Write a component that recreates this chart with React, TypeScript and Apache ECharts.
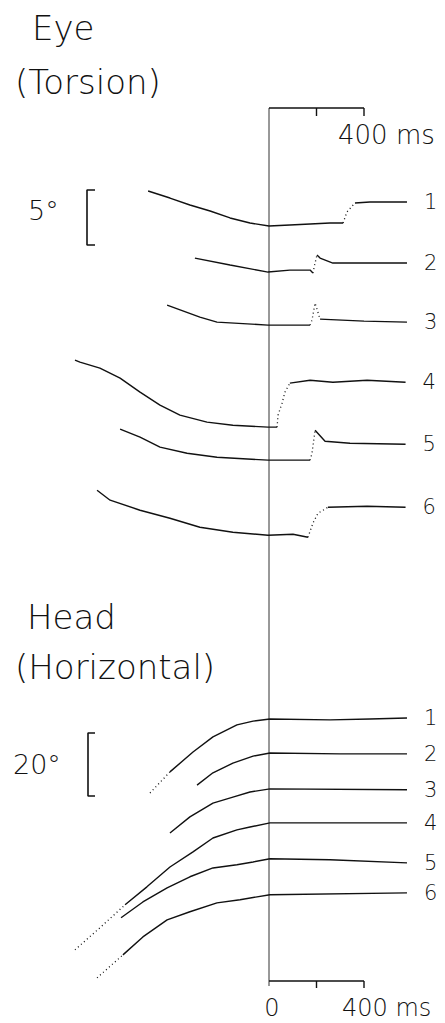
import React, { useEffect, useRef } from "react";
import * as echarts from "echarts";

// ---- Recorded traces: [time (ms, 0 = reference instant), angle (deg)] ----
// Eye torsion, trials 1-6 (relative to each trial's final level)
const eyeTorsion1 = [[-509, 1.0], [-417, 0.36], [-333, -0.27], [-248, -0.82], [-164, -1.45], [-80, -1.91], [0, -2.18], [88, -2.09], [173, -2.0], [257, -1.91], [312, -1.91], [328, -0.91], [362, -0.09], [425, 0], [581, 0]];
const eyeTorsion2 = [[-312, 0.45], [-164, -0.18], [-4, -0.82], [88, -0.64], [173, -0.64], [185, -0.91], [194, 0], [202, 0.73], [215, 0.45], [269, 0], [581, 0]];
const eyeTorsion3 = [[-429, 1.73], [-291, 0.64], [-219, 0.18], [-4, -0.09], [173, -0.09], [181, 0.36], [194, 1.91], [215, 0.45], [400, 0.27], [581, 0.18]];
const eyeTorsion4 = [[-817, 2.27], [-796, 2.09], [-712, 1.55], [-627, 0.64], [-543, -0.64], [-459, -1.82], [-375, -2.73], [-261, -3.36], [-152, -3.64], [-4, -3.82], [34, -3.82], [38, -2.73], [55, -1.64], [67, -0.64], [88, 0.18], [173, 0.45], [269, 0.27], [413, 0.45], [575, 0.27]];
const eyeTorsion5 = [[-627, 1.55], [-543, 0.82], [-459, -0.09], [-345, -0.64], [-219, -1.0], [-4, -1.27], [173, -1.27], [181, -0.64], [194, 1.45], [236, 0.45], [341, 0.27], [575, 0.18]];
const eyeTorsion6 = [[-724, 1.55], [-669, 0.64], [-543, -0.27], [-417, -1.0], [-291, -1.82], [-152, -2.27], [-4, -2.55], [101, -2.45], [164, -2.73], [185, -1.45], [206, -0.55], [248, 0], [413, 0.09], [575, 0]];

// Head horizontal position, trials 1-6
const headAngle1 = [[-501, -23.8], [-417, -17.1], [-320, -10.8], [-236, -6.0], [-135, -2.2], [-67, -1.0], [4, -0.3], [257, -0.6], [425, -0.3], [581, 0]];
const headAngle2 = [[-303, -10.2], [-236, -6.3], [-152, -3.2], [-67, -1.0], [4, 0], [300, -0.3], [581, -0.3]];
const headAngle3 = [[-417, -14.3], [-333, -9.2], [-236, -4.8], [-152, -2.9], [-80, -1.3], [4, -0.3], [581, -0.6]];
const headAngle4 = [[-817, -40.3], [-712, -33.3], [-606, -26.0], [-514, -20.3], [-417, -14.0], [-320, -9.2], [-236, -4.8], [-135, -2.2], [-80, -1.3], [4, 0], [581, 0]];
const headAngle5 = [[-623, -19.0], [-531, -14.0], [-429, -9.5], [-333, -6.0], [-236, -3.2], [-135, -2.2], [-67, -1.3], [4, -0.3], [257, -0.6], [581, -1.6]];
const headAngle6 = [[-724, -27.0], [-615, -19.7], [-531, -14.0], [-429, -8.6], [-333, -6.0], [-219, -3.2], [-122, -2.2], [4, -0.6], [581, 0]];

const trialNames = ["1", "2", "3", "4", "5", "6"];
const eyeTraces = [eyeTorsion1, eyeTorsion2, eyeTorsion3, eyeTorsion4, eyeTorsion5, eyeTorsion6];
const headTraces = [headAngle1, headAngle2, headAngle3, headAngle4, headAngle5, headAngle6];

// fast phases (sparsely sampled, drawn dotted): [start ms, end ms]
const eyeFastPhase = [[312, 362], [185, 202], [173, 215], [34, 88], [173, 194], [164, 248]];
const headFastPhase = [[-501, -417], null, null, [-817, -606], null, [-724, -615]];

// calibration bars
const timeBarTicks = [0, 200, 400];
const timeBarLabel = "400 ms";
const eyeScaleDeg = 5;
const headScaleDeg = 20;

// ---- layout ----
const W = 445;
const H = 1023;
const GRID = { left: 31.5, top: 100, width: 403.75, height: 900 };
const T_MIN = -1000;
const T_MAX = 700;
const EYE_PX_PER_DEG = 11;
const EYE_ZERO_Y = 202;
const EYE_ROW = 5.55;
const HEAD_PX_PER_DEG = 3.15;
const HEAD_ZERO_Y = 718;
const HEAD_ROW = 11.1;

const eyeMax = (EYE_ZERO_Y - GRID.top) / EYE_PX_PER_DEG;
const eyeMin = eyeMax - GRID.height / EYE_PX_PER_DEG;
const headMax = (HEAD_ZERO_Y - GRID.top) / HEAD_PX_PER_DEG;
const headMin = headMax - GRID.height / HEAD_PX_PER_DEG;
const eyeAt = (py: number) => (EYE_ZERO_Y - py) / EYE_PX_PER_DEG;
const headAt = (py: number) => (HEAD_ZERO_Y - py) / HEAD_PX_PER_DEG;
const tAt = (px: number) => T_MIN + ((px - GRID.left) / GRID.width) * (T_MAX - T_MIN);

const FONT = "'DejaVu Sans', 'Liberation Sans', sans-serif";
const INK = "#111";

type Pt = number[];

function splitTrace(pts: Pt[], fast: number[] | null) {
  if (!fast) return [{ pts, dotted: false }];
  const [a, b] = fast;
  return [
    { pts: pts.filter((p) => p[0] <= a), dotted: false },
    { pts: pts.filter((p) => p[0] >= a && p[0] <= b), dotted: true },
    { pts: pts.filter((p) => p[0] >= b), dotted: false },
  ].filter((s) => s.pts.length > 1);
}

function traceSeries(traces: Pt[][], fastPhases: (number[] | null)[], axis: number, row: number) {
  const out: any[] = [];
  traces.forEach((tr, i) => {
    const segs = splitTrace(tr, fastPhases[i]);
    segs.forEach((s, k) => {
      const last = k === segs.length - 1;
      out.push({
        type: "line",
        name: trialNames[i],
        xAxisIndex: 0,
        yAxisIndex: axis,
        data: s.pts.map(([t, v]) => [t, v - i * row]),
        symbol: "none",
        silent: true,
        lineStyle: { color: INK, width: s.dotted ? 1.3 : 1.4, type: s.dotted ? [1, 3] : "solid" },
        endLabel: last
          ? {
              show: true,
              formatter: () => trialNames[i],
              distance: 17,
              fontFamily: FONT,
              fontSize: 21,
              fontWeight: 200,
              color: INK,
            }
          : { show: false },
      });
    });
  });
  return out;
}

function segSeries(data: number[][], axis: number, width = 1.4, color = INK) {
  return {
    type: "line",
    xAxisIndex: 0,
    yAxisIndex: axis,
    data,
    symbol: "none",
    silent: true,
    lineStyle: { color, width },
  };
}

function label(text: string, x: number, y: number, size: number, align = "left") {
  return {
    type: "text",
    x,
    y,
    style: {
      text,
      fontFamily: FONT,
      fontSize: size,
      fontWeight: 200,
      fill: INK,
      align,
      verticalAlign: "middle",
      textAlign: align,
      textVerticalAlign: "middle",
    },
  };
}

export default function App() {
  const ref = useRef<HTMLDivElement>(null);

  useEffect(() => {
    if (!ref.current) return;
    const chart = echarts.init(ref.current, null, { renderer: "svg" });

    const topBarY = eyeAt(108);
    const topTickY = eyeAt(116);
    const botBarY = headAt(981);
    const botTickY = headAt(988);
    const eyeBx0 = tAt(87);
    const eyeBx1 = tAt(95);
    const eyeTop = eyeAt(190);
    const headBx0 = tAt(88);
    const headBx1 = tAt(95);
    const headTop = headAt(733);
    const [t0, tMid, tEnd] = timeBarTicks;

    const series: any[] = [
      // zero-time reference line
      segSeries([[t0, topBarY], [t0, eyeAt(986)]], 0, 1, "#333"),
      // time calibration bars
      segSeries([[t0, topBarY], [tEnd, topBarY]], 0),
      segSeries([[tMid, topBarY], [tMid, topTickY]], 0),
      segSeries([[tEnd, topBarY], [tEnd, topTickY]], 0),
      segSeries([[t0, botBarY], [tEnd, botBarY]], 1),
      segSeries([[tMid, botBarY], [tMid, botTickY]], 1),
      segSeries([[tEnd, botBarY], [tEnd, botTickY]], 1),
      // angle calibration brackets
      segSeries([[eyeBx1, eyeTop], [eyeBx0, eyeTop], [eyeBx0, eyeTop - eyeScaleDeg], [eyeBx1, eyeTop - eyeScaleDeg]], 0, 1.6),
      segSeries([[headBx1, headTop], [headBx0, headTop], [headBx0, headTop - headScaleDeg], [headBx1, headTop - headScaleDeg]], 1, 1.6),
      ...traceSeries(eyeTraces, eyeFastPhase, 0, EYE_ROW),
      ...traceSeries(headTraces, headFastPhase, 1, HEAD_ROW),
    ];

    chart.setOption({
      animation: false,
      backgroundColor: "#fff",
      grid: { left: GRID.left, top: GRID.top, width: GRID.width, height: GRID.height, containLabel: false },
      xAxis: { type: "value", min: T_MIN, max: T_MAX, show: false },
      yAxis: [
        { type: "value", min: eyeMin, max: eyeMax, show: false },
        { type: "value", min: headMin, max: headMax, show: false },
      ],
      series,
      graphic: [
        label("Eye", 32, 28, 34),
        label("(Torsion)", 15, 82, 34),
        label("Head", 27, 617, 34),
        label("(Horizontal)", 15, 667, 34),
        label(`${eyeScaleDeg}°`, 28, 210, 27),
        label(`${headScaleDeg}°`, 13, 764, 27),
        label(timeBarLabel, 338, 135, 26),
        label(String(t0), 272, 1008, 24, "center"),
        label(timeBarLabel, 342, 1008, 24),
      ],
    });

    return () => chart.dispose();
  }, []);

  return <div ref={ref} style={{ position: "absolute", left: 0, top: 0, width: W, height: H }} />;
}
